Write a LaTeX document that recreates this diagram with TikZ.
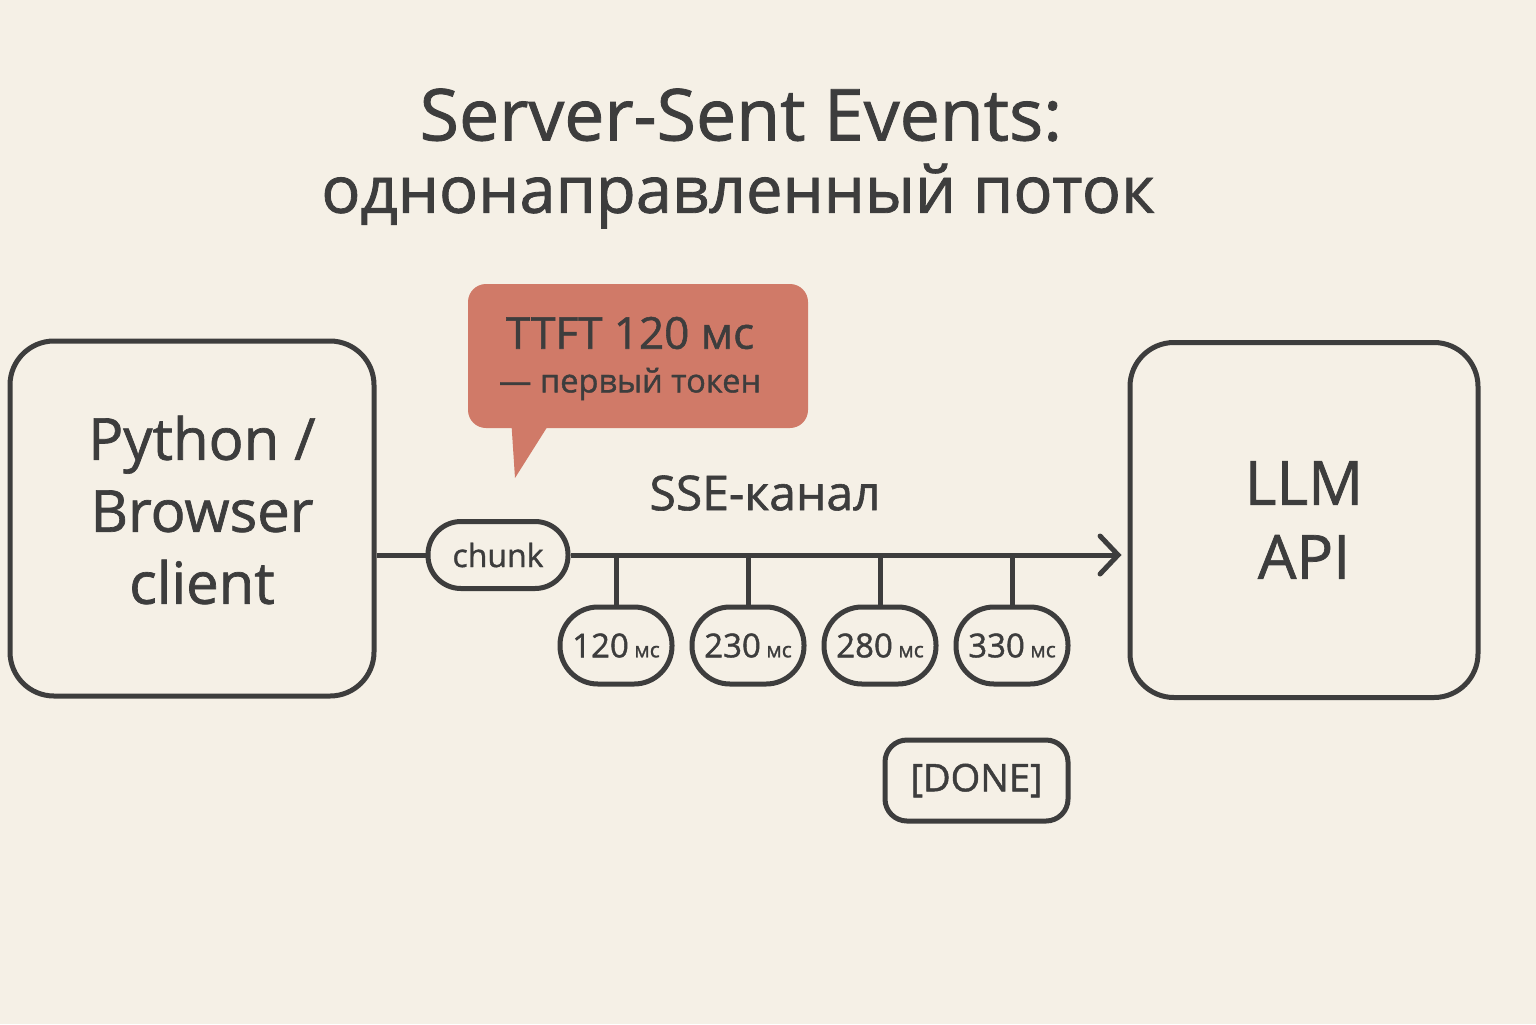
\documentclass[tikz,border=0pt]{standalone}
\usepackage{fontspec}
\setmainfont{Open Sans}[UprightFeatures={FakeBold=1.2}]
\usetikzlibrary{arrows.meta}
\definecolor{bg}{HTML}{F5F0E6}
\definecolor{ink}{HTML}{3D3D3D}
\definecolor{callout}{HTML}{D07A68}
\tikzset{
  box/.style={draw=ink, line width=2.5pt, rounded corners=22pt, inner sep=0pt, align=center, text=ink},
  pill/.style={draw=ink, line width=2.5pt, rounded corners=19pt, inner sep=0pt, align=center, text=ink},
  wire/.style={draw=ink, line width=2.5pt},
  lbl/.style={text=ink, inner sep=0pt, align=center},
  ms/.style={pill, minimum width=56pt, minimum height=38.5pt, font=\fontsize{16.5}{18}\selectfont},
}
\newcommand{\msu}{\,{\fontsize{10.5}{12}\selectfont мс}}
\begin{document}
\begin{tikzpicture}[x=0.5pt,y=-0.5pt]
\fill[bg] (0,0) rectangle (1536,1024);
\useasboundingbox (0,0) rectangle (1536,1024);
% title
\node[lbl, font=\fontsize{35.8}{38}\selectfont] (title1) at (741,115) {Server-Sent Events:};
\node[lbl, font=\fontsize{32.5}{38}\selectfont] (title2) at (738,196) {однонаправленный поток};
% main boxes
\node[box, minimum width=182pt, minimum height=177.5pt] (client) at (192,518.5) {};
\node[lbl, font=\fontsize{29}{36}\selectfont] (clientlbl) at (202,510) {Python /\\Browser\\client};
\node[box, minimum width=174pt, minimum height=177.5pt, font=\fontsize{30.5}{37}\selectfont] (llm) at (1304,520) {LLM\\API};
% chunk
\node[pill, minimum width=70pt, minimum height=33.5pt, rounded corners=16.5pt, font=\fontsize{16}{18}\selectfont] (chunk) at (498,555) {chunk};
\draw[wire] (client.east |- chunk.west) -- (chunk.west);
\draw[wire, -{Straight Barb[length=9pt,width=19pt,line cap=round]}, shorten >=3pt] (chunk.east) -- (llm.west |- chunk.east);
% channel label
\node[lbl, font=\fontsize{24}{26}\selectfont] (sse) at (765,493) {SSE-канал};
% timestamps
\node[ms] (t1) at (616,645.5) {120\msu};
\node[ms] (t2) at (748,645.5) {230\msu};
\node[ms] (t3) at (880,645.5) {280\msu};
\node[ms] (t4) at (1012,645.5) {330\msu};
\foreach \t in {t1,t2,t3,t4} \draw[wire] (\t.north) -- (\t.north |- chunk.east);
% done
\node[box, rounded corners=11pt, minimum width=91.5pt, minimum height=40.5pt, font=\fontsize{19}{21}\selectfont] (done) at (976.5,780.5) {[DONE]};
% callout
\node[fill=callout, rounded corners=9pt, minimum width=170pt, minimum height=72pt, inner sep=0pt] (ttft) at (638,356) {};
\fill[callout] (ttft.south west) ++(44,-2) coordinate (tailA) -- ++(36,0) coordinate (tailB) -- (515,478) coordinate (tip) -- cycle;
\node[lbl, font=\fontsize{22}{24}\selectfont] (ttft1) at (630,333) {TTFT 120 мс};
\node[lbl, font=\fontsize{16.3}{18}\selectfont] (ttft2) at (630,384) {— первый токен};
\end{tikzpicture}
\end{document}
